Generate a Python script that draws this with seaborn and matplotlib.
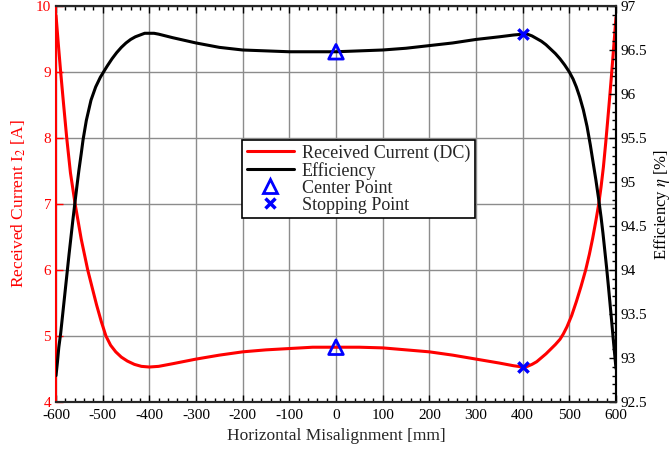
import numpy as np
import pandas as pd
import matplotlib
matplotlib.use("Agg")
import matplotlib.pyplot as plt
from matplotlib.ticker import MultipleLocator
from matplotlib.lines import Line2D
import seaborn as sns

# ---- data ----
eff_x = [-600, -597, -594, -590, -586, -583, -579, -576, -572, -568, -564, -560, -555,
         -551, -546, -542, -535, -525, -515, -505, -497, -490, -480, -470, -460, -450,
         -440, -430, -420, -410, -400, -390, -380, -350, -300, -250, -200, -150, -100,
         -50, 0, 50, 100, 150, 200, 250, 300, 350, 380, 400, 410, 420, 430, 440, 450,
         460, 470, 480, 490, 500, 508, 515, 522, 530, 538, 545, 551, 557, 563, 568, 572,
         576, 580, 584, 587, 591, 594, 597, 600]
eff_y = [92.80, 92.95, 93.12, 93.28, 93.48, 93.63, 93.83, 93.98, 94.18, 94.37, 94.56,
         94.74, 94.96, 95.13, 95.32, 95.48, 95.70, 95.93, 96.08, 96.19, 96.26, 96.32,
         96.40, 96.47, 96.53, 96.58, 96.62, 96.65, 96.67, 96.69, 96.69, 96.69, 96.68,
         96.64, 96.58, 96.53, 96.50, 96.49, 96.48, 96.48, 96.48, 96.49, 96.50, 96.52,
         96.55, 96.58, 96.62, 96.65, 96.67, 96.68, 96.68, 96.66, 96.63, 96.60, 96.56,
         96.51, 96.46, 96.40, 96.33, 96.25, 96.17, 96.08, 95.97, 95.82, 95.63, 95.42,
         95.22, 95.02, 94.80, 94.60, 94.42, 94.22, 94.02, 93.80, 93.63, 93.40, 93.22,
         93.05, 92.88]

cur_x = [-600, -595, -590, -584, -577, -569, -559, -546, -532, -522, -513, -503, -493,
         -483, -472, -460, -447, -432, -417, -400, -380, -350, -300, -250, -200, -150,
         -100, -50, 0, 50, 100, 150, 200, 250, 300, 350, 380, 400, 410, 420, 430, 440,
         450, 460, 470, 480, 487, 495, 505, 515, 525, 535, 543, 550, 557, 563, 568, 573,
         578, 582, 586, 590, 595, 600]
cur_y = [9.86, 9.42, 9.00, 8.53, 8.00, 7.47, 7.00, 6.47, 6.00, 5.72, 5.47, 5.22, 5.00,
         4.86, 4.76, 4.68, 4.62, 4.57, 4.54, 4.53, 4.54, 4.58, 4.65, 4.71, 4.76, 4.79,
         4.81, 4.83, 4.83, 4.83, 4.82, 4.79, 4.76, 4.71, 4.65, 4.59, 4.55, 4.53, 4.54,
         4.57, 4.61, 4.67, 4.73, 4.80, 4.87, 4.95, 5.03, 5.14, 5.31, 5.52, 5.75, 6.00,
         6.24, 6.48, 6.75, 7.00, 7.26, 7.56, 7.93, 8.25, 8.58, 8.92, 9.37, 9.83]

center_x = [0]
center_cur = [4.83]
center_eff = [96.48]
stop_x = [400]
stop_cur = [4.53]
stop_eff = [96.68]

xticks = list(range(-600, 601, 100))
cur_ticks = [4, 5, 6, 7, 8, 9, 10]
eff_ticks = [92.5, 93, 93.5, 94, 94.5, 95, 95.5, 96, 96.5, 97]

sns.set_theme(style="white")
plt.rcParams['font.family'] = ['Liberation Serif', 'DejaVu Serif']
plt.rcParams['mathtext.fontset'] = 'stix'
plt.rcParams['xtick.direction'] = 'in'
plt.rcParams['ytick.direction'] = 'in'

fig = plt.figure(figsize=(6.72, 4.51), dpi=100)
ax = fig.add_axes([56/672, 1-402/451, 560/672, 396/451])
ax2 = ax.twinx()

df_cur = pd.DataFrame({"x": cur_x, "y": cur_y})
df_eff = pd.DataFrame({"x": eff_x, "y": eff_y})

sns.lineplot(data=df_cur, x="x", y="y", ax=ax, color="#ff0000", lw=2.2, sort=False)
sns.scatterplot(x=center_x, y=center_cur, ax=ax, marker="^", s=110, facecolor="none",
                edgecolor="#0000ff", linewidth=2, zorder=5)
sns.scatterplot(x=stop_x, y=stop_cur, ax=ax, marker="x", s=55, color="#0000ff",
                linewidth=2.5, zorder=5)

sns.lineplot(data=df_eff, x="x", y="y", ax=ax2, color="black", lw=2.2, sort=False)
sns.scatterplot(x=center_x, y=center_eff, ax=ax2, marker="^", s=110, facecolor="none",
                edgecolor="#0000ff", linewidth=2, zorder=5)
sns.scatterplot(x=stop_x, y=stop_eff, ax=ax2, marker="x", s=55, color="#0000ff",
                linewidth=2.5, zorder=5)

ax.set_xlim(-600, 600)
ax.set_ylim(4, 10)
ax2.set_ylim(92.5, 97)
ax.set_xticks(xticks)
ax.set_xticklabels([str(t) for t in xticks])
ax.xaxis.set_minor_locator(MultipleLocator(20))
ax.set_yticks(cur_ticks)
ax.set_yticklabels([str(t) for t in cur_ticks])
ax2.set_yticks(eff_ticks)
ax2.set_yticklabels([f"{t:g}" for t in eff_ticks])
ax2.yaxis.set_minor_locator(MultipleLocator(0.1))

ax.grid(True, which="major", color="#8c8c8c", lw=1.0)
ax.set_axisbelow(True)

ax.tick_params(axis="x", which="major", top=True, bottom=True, length=5, width=1,
               colors="black", labelsize=11, pad=5)
ax.tick_params(axis="x", which="minor", top=True, bottom=True, length=3, width=1, colors="black")
ax.tick_params(axis="y", which="major", left=True, length=5, width=1, colors="#ff0000",
               labelsize=11)
ax2.tick_params(axis="y", which="major", right=True, length=5, width=1, colors="black",
                labelsize=11)
ax2.tick_params(axis="y", which="minor", right=True, length=3, width=1, colors="black")

for s in ["top", "bottom", "right"]:
    ax.spines[s].set_color("black")
    ax.spines[s].set_linewidth(1.5)
ax.spines["left"].set_color("#ff0000")
ax.spines["left"].set_linewidth(1.5)
ax2.spines["left"].set_visible(False)
ax2.spines["right"].set_color("black")
ax2.spines["right"].set_linewidth(1.5)
ax2.spines["top"].set_linewidth(1.5)
ax2.spines["bottom"].set_linewidth(1.5)

ax.set_xlabel("Horizontal Misalignment [mm]", fontsize=12.5, labelpad=4)
ax.set_ylabel("Received Current I$_2$ [A]", fontsize=12.5, color="#ff0000", labelpad=6)
ax2.set_ylabel(r"Efficiency $\eta$ [%]", fontsize=12, color="black", labelpad=3)

handles = [
    Line2D([], [], color="#ff0000", lw=2.2),
    Line2D([], [], color="black", lw=2.2),
    Line2D([], [], marker="^", ls="none", markerfacecolor="none",
           markeredgecolor="#0000ff", markeredgewidth=2, markersize=10),
    Line2D([], [], marker="x", ls="none", color="#0000ff", markeredgewidth=2.5, markersize=7),
]
labels = ["Received Current (DC)", "Efficiency", "Center Point", "Stopping Point"]
leg = ax2.legend(handles, labels, loc="center", bbox_to_anchor=(0.540, 0.563),
                 fontsize=13, frameon=True, fancybox=False, edgecolor="black",
                 framealpha=1, borderpad=0.25, labelspacing=0.0, handlelength=2.6,
                 handletextpad=0.45)
leg.get_frame().set_linewidth(1.2)

fig.savefig("out.png", dpi=100)
